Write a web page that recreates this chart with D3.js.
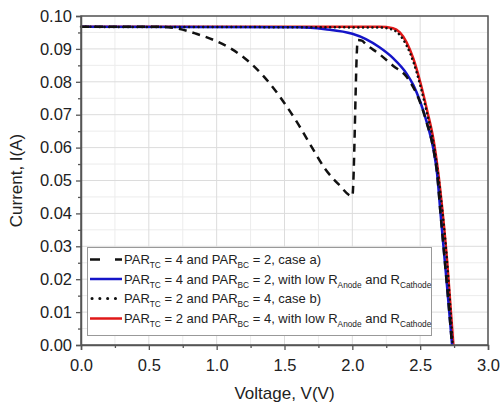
<!DOCTYPE html>
<html>
<head>
<meta charset="utf-8">
<script src="https://cdn.jsdelivr.net/npm/d3@7"></script>
<style>
  body { margin: 0; background: #fff; }
  text { font-family: "Liberation Sans", Arial, sans-serif; fill: #222; }
</style>
</head>
<body>
<div id="chart"></div>
<script>
// case a) dashed, PAR_TC = 4 / PAR_BC = 2
const caseAV = [0, 0.6, 0.7, 0.85, 1.0, 1.1, 1.2, 1.35, 1.5, 1.6, 1.7, 1.8, 1.9, 2.0, 2.04, 2.07, 2.1, 2.2, 2.3, 2.4, 2.5, 2.55, 2.6, 2.625, 2.65, 2.7, 2.735];
const caseAI = [0.0967, 0.0967, 0.0963, 0.0946, 0.0923, 0.0902, 0.0874, 0.0815, 0.0735, 0.0672, 0.0602, 0.0535, 0.0488, 0.0452, 0.0927, 0.0925, 0.0914, 0.0884, 0.0849, 0.0815, 0.0737, 0.0673, 0.0590, 0.0520, 0.0400, 0.0170, 0];

// PAR_TC = 4 / PAR_BC = 2, low R (blue)
const lowRaV = [0, 1.6, 1.8, 2.0, 2.1, 2.2, 2.3, 2.4, 2.45, 2.5, 2.55, 2.6, 2.625, 2.65, 2.7, 2.735];
const lowRaI = [0.0967, 0.0966, 0.0960, 0.0946, 0.0930, 0.0905, 0.0872, 0.0825, 0.0790, 0.0740, 0.0675, 0.0590, 0.0520, 0.0400, 0.0170, 0];

// case b) dotted, PAR_TC = 2 / PAR_BC = 4
const caseBV = [0, 2.2, 2.3, 2.35, 2.4, 2.45, 2.5, 2.55, 2.6, 2.65, 2.7, 2.74];
const caseBI = [0.0967, 0.0965, 0.0958, 0.0942, 0.0910, 0.0860, 0.0790, 0.0705, 0.0610, 0.0458, 0.0244, 0];

// PAR_TC = 2 / PAR_BC = 4, low R (red)
const lowRbV = [0, 2.2, 2.3, 2.35, 2.4, 2.45, 2.5, 2.55, 2.6, 2.65, 2.7, 2.745];
const lowRbI = [0.0967, 0.0967, 0.0963, 0.0950, 0.0920, 0.0870, 0.0800, 0.0715, 0.0620, 0.0465, 0.0250, 0];

const xTicks = [0, 0.5, 1.0, 1.5, 2.0, 2.5, 3.0];
const yTicks = [0, 0.01, 0.02, 0.03, 0.04, 0.05, 0.06, 0.07, 0.08, 0.09, 0.10];

const legendLabels = [
  ["PAR", "TC", " = 4 and PAR", "BC", " = 2, case a)"],
  ["PAR", "TC", " = 4 and PAR", "BC", " = 2, with low R", "Anode", " and R", "Cathode"],
  ["PAR", "TC", " = 2 and PAR", "BC", " = 4, case b)"],
  ["PAR", "TC", " = 2 and PAR", "BC", " = 4, with low R", "Anode", " and R", "Cathode"]
];

const width = 500, height = 405;
const margin = { left: 81, right: 12, top: 16, bottom: 60 };

const svg = d3.select("#chart").append("svg")
  .attr("width", width).attr("height", height);

const x = d3.scaleLinear().domain([0, 3]).range([margin.left, width - margin.right]);
const y = d3.scaleLinear().domain([0, 0.1]).range([height - margin.bottom, margin.top]);

// Grid (minor lighter, major a bit darker)
const xMinor = d3.range(0.25, 3, 0.5);
const yMinor = d3.range(0.005, 0.1, 0.01);
const grid = svg.append("g");
grid.selectAll(".gxm").data(xMinor).join("line")
  .attr("x1", d => x(d)).attr("x2", d => x(d))
  .attr("y1", y(0)).attr("y2", y(0.1))
  .attr("stroke", "#ececec").attr("stroke-width", 1);
grid.selectAll(".gym").data(yMinor).join("line")
  .attr("x1", x(0)).attr("x2", x(3))
  .attr("y1", d => y(d)).attr("y2", d => y(d))
  .attr("stroke", "#ececec").attr("stroke-width", 1);
grid.selectAll(".gx").data(xTicks).join("line")
  .attr("x1", d => x(d)).attr("x2", d => x(d))
  .attr("y1", y(0)).attr("y2", y(0.1))
  .attr("stroke", "#dcdcdc").attr("stroke-width", 1);
grid.selectAll(".gy").data(yTicks).join("line")
  .attr("x1", x(0)).attr("x2", x(3))
  .attr("y1", d => y(d)).attr("y2", d => y(d))
  .attr("stroke", "#dcdcdc").attr("stroke-width", 1);

// Curves
const line = d3.line().x(d => x(d[0])).y(d => y(d[1])).curve(d3.curveMonotoneX);
const zip = (a, b) => a.map((v, i) => [v, b[i]]);

const series = [
  { v: lowRbV, i: lowRbI, color: "#e01818", dash: null, cap: "butt", legDash: null },
  { v: lowRaV, i: lowRaI, color: "#1515c8", dash: null, cap: "butt", legDash: null },
  { v: caseAV, i: caseAI, color: "#111", dash: "8,6", cap: "butt", legDash: "10,15" },
  { v: caseBV, i: caseBI, color: "#111", dash: "0.1,4.6", cap: "round", legDash: "0.1,7.7" }
];

svg.append("g").selectAll("path").data(series).join("path")
  .attr("d", d => line(zip(d.v, d.i)))
  .attr("fill", "none")
  .attr("stroke", d => d.color)
  .attr("stroke-width", 2.5)
  .attr("stroke-linecap", d => d.cap)
  .attr("stroke-dasharray", d => d.dash);

// Frame
svg.append("rect")
  .attr("x", x(0)).attr("y", y(0.1))
  .attr("width", x(3) - x(0)).attr("height", y(0) - y(0.1))
  .attr("fill", "none").attr("stroke", "#555").attr("stroke-width", 1.5);

// Axes
const xAxis = svg.append("g").attr("transform", `translate(0,${y(0)})`)
  .call(d3.axisBottom(x).tickValues(xTicks).tickFormat(d3.format(".1f")).tickSize(5).tickPadding(9));
const yAxis = svg.append("g").attr("transform", `translate(${x(0)},0)`)
  .call(d3.axisLeft(y).tickValues(yTicks).tickFormat(d3.format(".2f")).tickSize(5).tickPadding(4));

svg.append("g").attr("transform", `translate(0,${y(0)})`)
  .call(d3.axisBottom(x).tickValues(xMinor).tickFormat("").tickSize(3))
  .call(g => g.select(".domain").remove());
svg.append("g").attr("transform", `translate(${x(0)},0)`)
  .call(d3.axisLeft(y).tickValues(yMinor).tickFormat("").tickSize(3))
  .call(g => g.select(".domain").remove());

svg.selectAll(".domain").attr("stroke", "#555").attr("stroke-width", 1.5);
svg.selectAll(".tick line").attr("stroke", "#555").attr("stroke-width", 1.3);
[xAxis, yAxis].forEach(a => a.selectAll("text")
  .style("font-family", "'Liberation Sans', Arial, sans-serif")
  .style("font-size", "16.5px").attr("fill", "#222"));

// Axis titles
svg.append("text")
  .attr("x", (x(0) + x(3)) / 2).attr("y", 399)
  .attr("text-anchor", "middle").style("font-size", "17px")
  .text("Voltage, V(V)");
svg.append("text")
  .attr("transform", `translate(22,${(y(0) + y(0.1)) / 2}) rotate(-90)`)
  .attr("text-anchor", "middle").style("font-size", "17px")
  .text("Current, I(A)");

// Legend
const lg = svg.append("g");
lg.append("rect")
  .attr("x", 87.5).attr("y", 247.5).attr("width", 344).attr("height", 88)
  .attr("fill", "#fff").attr("stroke", "#999").attr("stroke-width", 1);

const rowY = [259.5, 279, 298.5, 318.5];
const legendSeries = [series[2], series[1], series[3], series[0]];
legendSeries.forEach((s, k) => {
  lg.append("line")
    .attr("x1", s.cap === "round" ? 92 : 90).attr("x2", 122)
    .attr("y1", rowY[k]).attr("y2", rowY[k])
    .attr("stroke", s.color).attr("stroke-width", s.cap === "round" ? 3 : 2.5)
    .attr("stroke-linecap", s.cap)
    .attr("stroke-dasharray", s.legDash);
  const t = lg.append("text")
    .attr("x", 124).attr("y", rowY[k] + 4.7)
    .style("font-size", "13px");
  legendLabels[k].forEach((part, j) => {
    const sub = j % 2 === 1;
    t.append("tspan")
      .attr("dy", j === 0 ? 0 : (sub ? 4 : -4))
      .style("font-size", sub ? "8.3px" : "13px")
      .text(part);
  });
});
</script>
</body>
</html>
